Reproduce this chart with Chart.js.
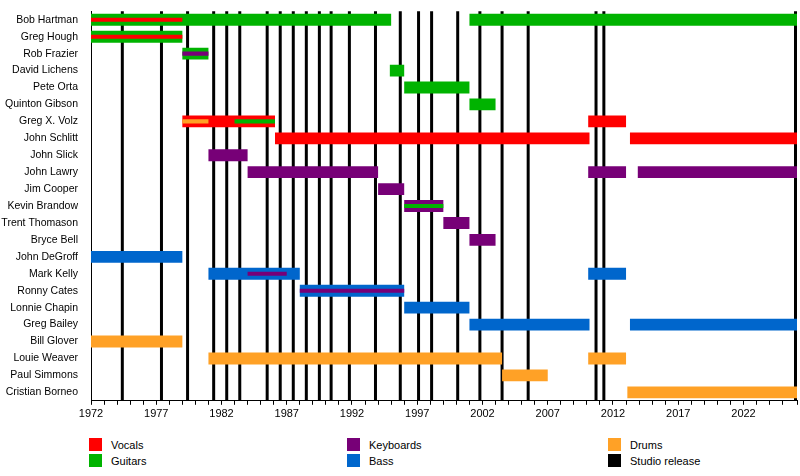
<!DOCTYPE html>
<html lang="en">
<head>
<meta charset="UTF-8">
<title>Band members timeline</title>
<script src="https://cdn.jsdelivr.net/npm/chart.js"></script>
<style>
    body { margin: 0; background: #fff; font-family: "Liberation Sans", Arial, sans-serif; }
    .chart-container { position: relative; width: 800px; height: 424px; }
    .legend { position: relative; width: 800px; height: 50px; font-size: 11px; color: #000; }
    .item { position: absolute; display: flex; align-items: center; }
    .sw { width: 13px; height: 13px; margin-right: 9px; }
</style>
</head>
<body>
<div class="chart-container"><canvas id="chart"></canvas></div>
<div class="legend" id="legend"></div>
<script>
// Members (rows, top to bottom)
const members = ["Bob Hartman", "Greg Hough", "Rob Frazier", "David Lichens", "Pete Orta",
    "Quinton Gibson", "Greg X. Volz", "John Schlitt", "John Slick", "John Lawry", "Jim Cooper",
    "Kevin Brandow", "Trent Thomason", "Bryce Bell", "John DeGroff", "Mark Kelly", "Ronny Cates",
    "Lonnie Chapin", "Greg Bailey", "Bill Glover", "Louie Weaver", "Paul Simmons", "Cristian Borneo"];

const END = 2026.1;

// Main role spans: [member, start, end]
const vocals = [["Greg X. Volz", 1979, 1986.1], ["Greg X. Volz", 2010.1, 2013], ["John Schlitt", 1986.1, 2010.2], ["John Schlitt", 2013.3, END]];
const guitars = [["Bob Hartman", 1972, 1995], ["Bob Hartman", 2001, END], ["Greg Hough", 1972, 1979], ["Rob Frazier", 1979, 1981],
    ["David Lichens", 1994.9, 1996], ["Pete Orta", 1996, 2001], ["Quinton Gibson", 2001, 2003]];
const keyboards = [["John Slick", 1981, 1984], ["John Lawry", 1984, 1994], ["John Lawry", 2010.1, 2013], ["John Lawry", 2013.9, END],
    ["Jim Cooper", 1994, 1996], ["Kevin Brandow", 1996, 1999], ["Trent Thomason", 1999, 2001], ["Bryce Bell", 2001, 2003]];
const bass = [["John DeGroff", 1972, 1979], ["Mark Kelly", 1981, 1988], ["Mark Kelly", 2010.1, 2013], ["Ronny Cates", 1988, 1996],
    ["Lonnie Chapin", 1996, 2001], ["Greg Bailey", 2001, 2010.2], ["Greg Bailey", 2013.3, END]];
const drums = [["Bill Glover", 1972, 1979], ["Louie Weaver", 1981, 2003.5], ["Louie Weaver", 2010.1, 2013],
    ["Paul Simmons", 2003.5, 2007], ["Cristian Borneo", 2013.1, END]];

// Secondary roles (thin inner bars)
const vocals2 = [["Bob Hartman", 1972, 1979], ["Greg Hough", 1972, 1979]];
const guitars2 = [["Greg X. Volz", 1983, 1986.1], ["Kevin Brandow", 1996, 1999]];
const keyboards2 = [["Rob Frazier", 1979, 1981], ["Mark Kelly", 1984, 1987], ["Ronny Cates", 1988, 1996]];
const drums2 = [["Greg X. Volz", 1979, 1981]];

// Studio releases
const releases = [1974.4, 1977.4, 1979.4, 1981.4, 1982.4, 1983.4, 1985.5, 1986.5, 1987.5, 1988.5, 1989.5, 1990.4,
    1991.8, 1993.8, 1995.7, 1997.1, 1998.1, 2000.1, 2001.8, 2003.5, 2005.5, 2010.7, 2011.3, 2026];

const colors = { Vocals: "#ff0000", Guitars: "#00b300", Keyboards: "#770077", Bass: "#0066cc", Drums: "#ffa126", "Studio release": "#000000" };

function toPoints(list) { return list.map(r => ({ y: r[0], x: [r[1], r[2]] })); }
function mainSet(label, list) {
    return { label, data: toPoints(list), backgroundColor: colors[label], barPercentage: 0.7, categoryPercentage: 1, grouped: false, order: 2 };
}
function innerSet(label, list) {
    return { label: label + " (2)", data: toPoints(list), backgroundColor: colors[label], barPercentage: 0.24, categoryPercentage: 1, grouped: false, order: 1 };
}

const releaseLines = {
    id: 'releaseLines',
    beforeDatasetsDraw(chart) {
        const { ctx, chartArea, scales } = chart;
        ctx.save();
        ctx.strokeStyle = '#000';
        ctx.lineWidth = 3;
        releases.forEach(r => {
            const x = Math.min(scales.x.getPixelForValue(r), chartArea.right - 1.5);
            ctx.beginPath();
            ctx.moveTo(x, Math.max(chartArea.top, 0));
            ctx.lineTo(x, chartArea.bottom);
            ctx.stroke();
        });
        ctx.restore();
    }
};

new Chart(document.getElementById('chart'), {
    type: 'bar',
    data: {
        labels: members,
        datasets: [
            mainSet("Vocals", vocals), mainSet("Guitars", guitars), mainSet("Keyboards", keyboards),
            mainSet("Bass", bass), mainSet("Drums", drums),
            innerSet("Vocals", vocals2), innerSet("Guitars", guitars2), innerSet("Keyboards", keyboards2), innerSet("Drums", drums2)
        ]
    },
    options: {
        indexAxis: 'y',
        responsive: true,
        maintainAspectRatio: false,
        animation: false,
        layout: { padding: { top: -12, right: 0, left: 0, bottom: 0 } },
        plugins: { legend: { display: false }, tooltip: { enabled: false } },
        scales: {
            x: {
                type: 'linear', min: 1972, max: END,
                grid: { drawOnChartArea: false, color: '#000', tickLength: 4 },
                border: { color: '#000' },
                ticks: {
                    stepSize: 1, autoSkip: false, maxRotation: 0, color: '#000',
                    font: { family: 'Liberation Sans', size: 11 },
                    callback: v => ((v - 1972) % 5 === 0 ? String(v) : '')
                }
            },
            y: {
                grid: { display: false },
                border: { color: '#000' },
                afterFit: s => { s.width = 91; },
                ticks: { color: '#000', font: { family: 'Liberation Sans', size: 10.5 }, padding: 5 }
            }
        }
    },
    plugins: [releaseLines]
});

// Legend
const legendItems = [["Vocals", 89, 0], ["Guitars", 89, 16], ["Keyboards", 347, 0], ["Bass", 347, 16], ["Drums", 608, 0], ["Studio release", 608, 16]];
const legend = document.getElementById('legend');
legendItems.forEach(([name, x, y]) => {
    const d = document.createElement('div');
    d.className = 'item';
    d.style.left = x + 'px';
    d.style.top = (14 + y) + 'px';
    d.innerHTML = '<span class="sw" style="background:' + colors[name] + '"></span><span>' + name + '</span>';
    legend.appendChild(d);
});
</script>
</body>
</html>
